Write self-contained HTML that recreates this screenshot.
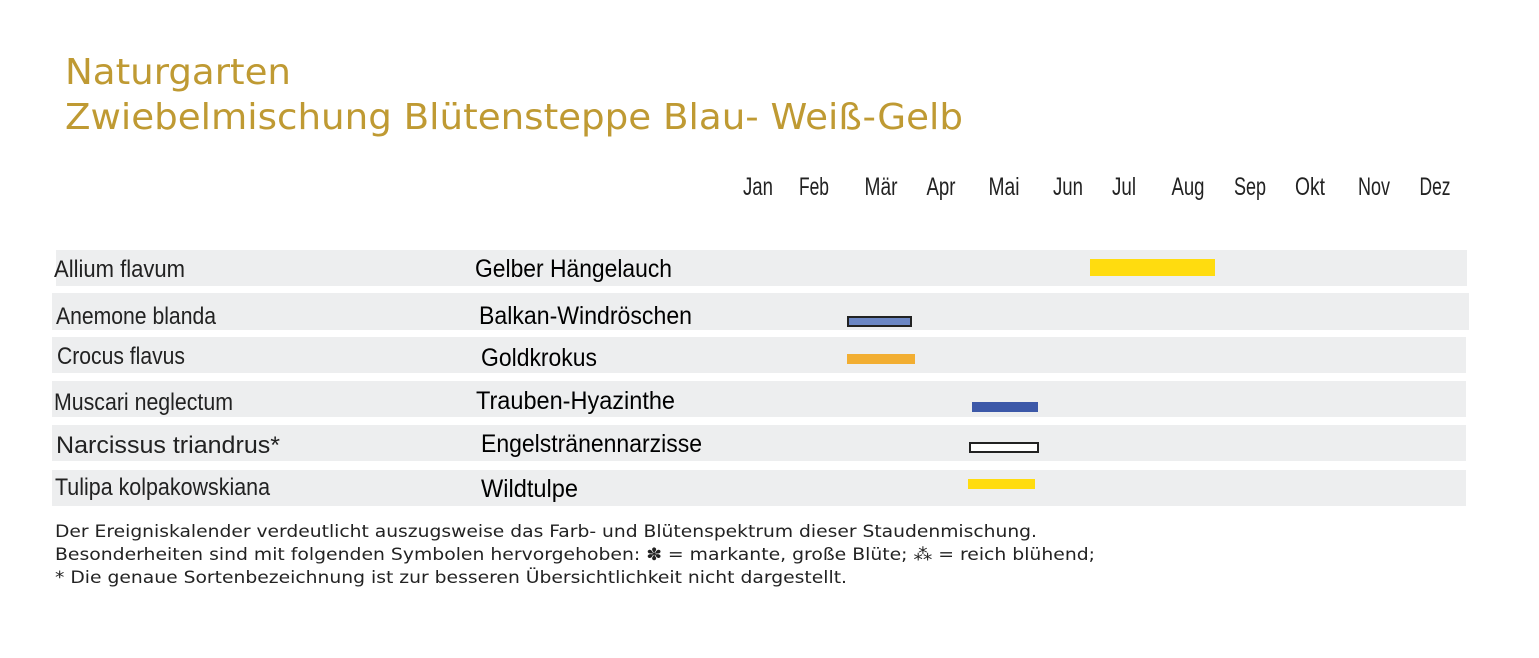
<!DOCTYPE html>
<html><head><meta charset="utf-8"><style>html,body{margin:0;padding:0;background:#fff}</style></head>
<body>
<svg width="1539" height="653" viewBox="0 0 1539 653" xmlns="http://www.w3.org/2000/svg">
<rect width="1539" height="653" fill="#fff"/>
<g font-family="DejaVu Sans, Verdana, sans-serif" fill="#bf9a33" font-size="36">
<text x="65" y="84" textLength="226" lengthAdjust="spacingAndGlyphs">Naturgarten</text>
<text x="65" y="129" textLength="898" lengthAdjust="spacingAndGlyphs">Zwiebelmischung Blütensteppe Blau- Weiß-Gelb</text>
</g>
<g font-family="Liberation Sans Narrow, Liberation Sans, sans-serif" font-size="25" fill="#222" text-anchor="middle">
<text x="758" y="195" textLength="30" lengthAdjust="spacingAndGlyphs">Jan</text>
<text x="814" y="195" textLength="30" lengthAdjust="spacingAndGlyphs">Feb</text>
<text x="881" y="195" textLength="33" lengthAdjust="spacingAndGlyphs">Mär</text>
<text x="941" y="195" textLength="29" lengthAdjust="spacingAndGlyphs">Apr</text>
<text x="1004" y="195" textLength="31" lengthAdjust="spacingAndGlyphs">Mai</text>
<text x="1068" y="195" textLength="30" lengthAdjust="spacingAndGlyphs">Jun</text>
<text x="1124" y="195" textLength="24" lengthAdjust="spacingAndGlyphs">Jul</text>
<text x="1188" y="195" textLength="33" lengthAdjust="spacingAndGlyphs">Aug</text>
<text x="1250" y="195" textLength="32" lengthAdjust="spacingAndGlyphs">Sep</text>
<text x="1310" y="195" textLength="30" lengthAdjust="spacingAndGlyphs">Okt</text>
<text x="1374" y="195" textLength="32" lengthAdjust="spacingAndGlyphs">Nov</text>
<text x="1435" y="195" textLength="31" lengthAdjust="spacingAndGlyphs">Dez</text>
</g>
<g fill="#edeeef">
<rect x="56" y="250" width="1411" height="36"/>
<rect x="52" y="293" width="1417" height="37"/>
<rect x="52" y="337" width="1414" height="36"/>
<rect x="52" y="381" width="1414" height="36"/>
<rect x="52" y="425" width="1414" height="36"/>
<rect x="52" y="470" width="1414" height="36"/>
</g>
<rect x="1090" y="259" width="125" height="17" fill="#ffdc0f"/>
<rect x="848" y="317" width="63" height="9" fill="#6b86c4" stroke="#222" stroke-width="2"/>
<rect x="847" y="354" width="68" height="10" fill="#f2ae32"/>
<rect x="972" y="402" width="66" height="10" fill="#3c58a8"/>
<rect x="970" y="443" width="68" height="9" fill="#fff" stroke="#222" stroke-width="2"/>
<rect x="968" y="479" width="67" height="10" fill="#ffdc0f"/>
<g font-family="Liberation Sans Narrow, Liberation Sans, sans-serif" font-size="24" fill="#222">
<text x="54" y="277" textLength="131" lengthAdjust="spacingAndGlyphs">Allium flavum</text>
<text x="56" y="324" textLength="160" lengthAdjust="spacingAndGlyphs">Anemone blanda</text>
<text x="57" y="364" textLength="128" lengthAdjust="spacingAndGlyphs">Crocus flavus</text>
<text x="54" y="410" textLength="179" lengthAdjust="spacingAndGlyphs">Muscari neglectum</text>
<text x="56" y="453" textLength="224" lengthAdjust="spacingAndGlyphs">Narcissus triandrus*</text>
<text x="55" y="495" textLength="215" lengthAdjust="spacingAndGlyphs">Tulipa kolpakowskiana</text>
</g>
<g font-family="Liberation Sans Narrow, Liberation Sans, sans-serif" font-size="25" fill="#000">
<text x="475" y="277" textLength="197" lengthAdjust="spacingAndGlyphs">Gelber Hängelauch</text>
<text x="479" y="324" textLength="213" lengthAdjust="spacingAndGlyphs">Balkan-Windröschen</text>
<text x="481" y="366" textLength="116" lengthAdjust="spacingAndGlyphs">Goldkrokus</text>
<text x="476" y="409" textLength="199" lengthAdjust="spacingAndGlyphs">Trauben-Hyazinthe</text>
<text x="481" y="452" textLength="221" lengthAdjust="spacingAndGlyphs">Engelstränennarzisse</text>
<text x="481" y="497" textLength="97" lengthAdjust="spacingAndGlyphs">Wildtulpe</text>
</g>
<g font-family="DejaVu Sans, Verdana, sans-serif" font-size="17" fill="#222">
<text x="55" y="537" textLength="982" lengthAdjust="spacingAndGlyphs">Der Ereigniskalender verdeutlicht auszugsweise das Farb- und Blütenspektrum dieser Staudenmischung.</text>
<text x="55" y="560" textLength="1040" lengthAdjust="spacingAndGlyphs">Besonderheiten sind mit folgenden Symbolen hervorgehoben: ✽ = markante, große Blüte; ⁂ = reich blühend;</text>
<text x="55" y="583" textLength="792" lengthAdjust="spacingAndGlyphs">* Die genaue Sortenbezeichnung ist zur besseren Übersichtlichkeit nicht dargestellt.</text>
</g>
</svg>
</body></html>
